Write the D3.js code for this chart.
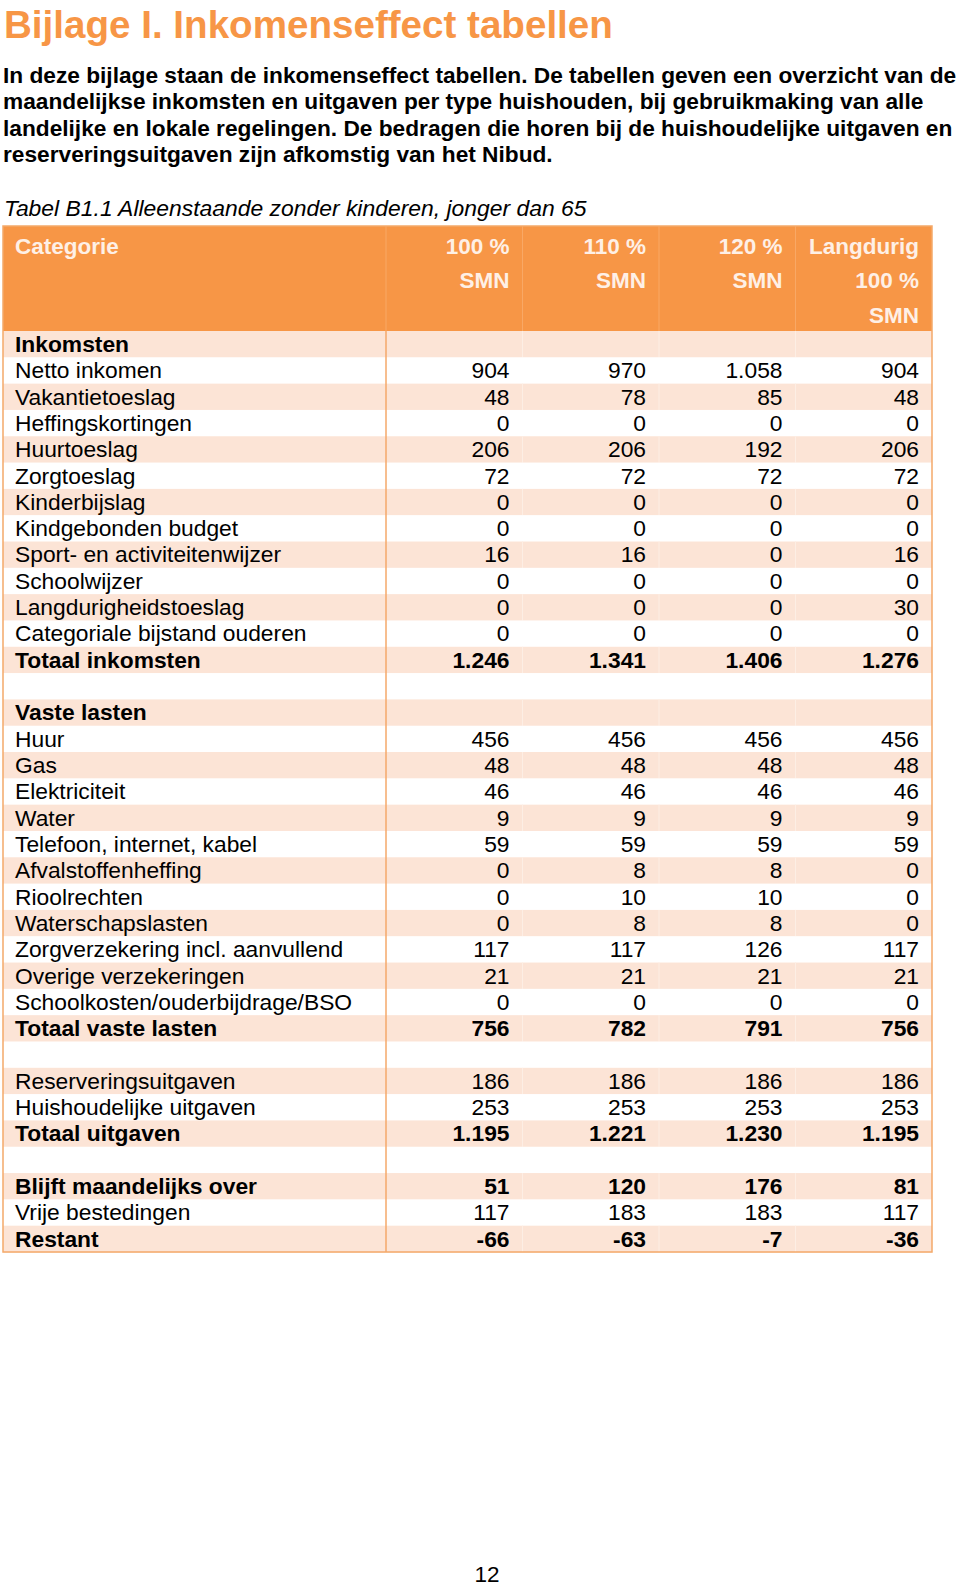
<!DOCTYPE html>
<html><head><meta charset="utf-8">
<script src="https://cdn.jsdelivr.net/npm/d3@7"></script>
<style>body{margin:0;background:#fff}svg{display:block}</style></head>
<body><svg id="c" width="960" height="1586"></svg>
<script>
const title = "Bijlage I. Inkomenseffect tabellen";
const introLines = [
  "In deze bijlage staan de inkomenseffect tabellen. De tabellen geven een overzicht van de",
  "maandelijkse inkomsten en uitgaven per type huishouden, bij gebruikmaking van alle",
  "landelijke en lokale regelingen. De bedragen die horen bij de huishoudelijke uitgaven en",
  "reserveringsuitgaven zijn afkomstig van het Nibud."
];
const tableCaption = "Tabel B1.1 Alleenstaande zonder kinderen, jonger dan 65";
const firstHeader = "Categorie";
const columnHeaders = [["100 %","SMN"],["110 %","SMN"],["120 %","SMN"],["Langdurig","100 %","SMN"]];
const categories = [
  "Inkomsten","Netto inkomen","Vakantietoeslag","Heffingskortingen","Huurtoeslag","Zorgtoeslag",
  "Kinderbijslag","Kindgebonden budget","Sport- en activiteitenwijzer","Schoolwijzer",
  "Langdurigheidstoeslag","Categoriale bijstand ouderen","Totaal inkomsten","",
  "Vaste lasten","Huur","Gas","Elektriciteit","Water","Telefoon, internet, kabel",
  "Afvalstoffenheffing","Rioolrechten","Waterschapslasten","Zorgverzekering incl. aanvullend",
  "Overige verzekeringen","Schoolkosten/ouderbijdrage/BSO","Totaal vaste lasten","",
  "Reserveringsuitgaven","Huishoudelijke uitgaven","Totaal uitgaven","",
  "Blijft maandelijks over","Vrije bestedingen","Restant"
];
const boldRows = ["Inkomsten","Totaal inkomsten","Vaste lasten","Totaal vaste lasten","Totaal uitgaven","Blijft maandelijks over","Restant"];
const smn100 =    [null,904,48,0,206,72,0,0,16,0,0,0,1246,null,null,456,48,46,9,59,0,0,0,117,21,0,756,null,186,253,1195,null,51,117,-66];
const smn110 =    [null,970,78,0,206,72,0,0,16,0,0,0,1341,null,null,456,48,46,9,59,8,10,8,117,21,0,782,null,186,253,1221,null,120,183,-63];
const smn120 =    [null,1058,85,0,192,72,0,0,0,0,0,0,1406,null,null,456,48,46,9,59,8,10,8,126,21,0,791,null,186,253,1230,null,176,183,-7];
const langdurig = [null,904,48,0,206,72,0,0,16,0,30,0,1276,null,null,456,48,46,9,59,0,0,0,117,21,0,756,null,186,253,1195,null,81,117,-36];
const pageNumber = "12";

const series = [smn100, smn110, smn120, langdurig];
const ORANGE = "#F79646", LIGHT = "#FCE4D6", HEADTXT = "#FEF0E6", BORDER = "#F4A96A";
const FONT = "'Liberation Sans', Arial, sans-serif";
const nl = d3.formatLocale({decimal:",", thousands:".", grouping:[3], currency:["€",""], minus:"-"});
const fmt = nl.format(",d");

const svg = d3.select("#c");
svg.append("text").attr("x",4).attr("y",37.5).attr("font-family",FONT).attr("font-weight","bold")
  .attr("font-size",38.6).attr("fill",ORANGE).text(title);

svg.selectAll("text.intro").data(introLines).join("text").attr("class","intro")
  .attr("x",3).attr("y",(d,i)=>83+i*26.3).attr("font-family",FONT).attr("font-weight","bold")
  .attr("font-size",22.7).attr("fill","#000").text(d=>d);

svg.append("text").attr("x",4).attr("y",216).attr("font-family",FONT).attr("font-style","italic")
  .attr("font-size",22.9).attr("fill","#000").text(tableCaption);

const left = 3, right = 932, catRight = 386, headTop = 226, headBottom = 331, bottom = 1252;
const y = d3.scaleBand().domain(d3.range(categories.length)).range([headBottom, bottom]);
const x = d3.scaleBand().domain(d3.range(series.length)).range([catRight, right]);

// header
svg.append("rect").attr("x",left).attr("y",headTop).attr("width",right-left).attr("height",headBottom-headTop).attr("fill",ORANGE);
svg.selectAll("line.hsep").data(d3.range(series.length)).join("line").attr("class","hsep")
  .attr("x1",d=>x(d)).attr("x2",d=>x(d)).attr("y1",headTop).attr("y2",headBottom)
  .attr("stroke","#F9A865").attr("stroke-width",1);
svg.append("text").attr("x",15).attr("y",254).attr("font-family",FONT).attr("font-weight","bold")
  .attr("font-size",22.5).attr("fill",HEADTXT).text(firstHeader);
const hg = svg.selectAll("g.hcol").data(columnHeaders).join("g").attr("class","hcol");
hg.selectAll("text").data((d,i)=>d.map(t=>({t,i}))).join("text")
  .attr("x",d=>x(d.i)+x.bandwidth()-13).attr("y",(d,j)=>254+j*34.3).attr("text-anchor","end")
  .attr("font-family",FONT).attr("font-weight","bold").attr("font-size",22.5).attr("fill",HEADTXT).text(d=>d.t);

// rows
const rows = svg.selectAll("g.row").data(categories).join("g").attr("class","row");
rows.append("rect").attr("x",left).attr("y",(d,i)=>y(i)).attr("width",right-left).attr("height",y.bandwidth()+0.5)
  .attr("fill",(d,i)=>i%2===0?LIGHT:"#fff");
rows.each(function(d,i){
  const g = d3.select(this);
  const b = boldRows.includes(d);
  if(i%2===0){
    g.selectAll("line.sep").data(d3.range(1,series.length)).join("line").attr("class","sep")
      .attr("x1",c=>x(c)).attr("x2",c=>x(c)).attr("y1",y(i)).attr("y2",y(i)+y.bandwidth())
      .attr("stroke","#FDEEE4").attr("stroke-width",1);
  }
  g.append("text").attr("x",15).attr("y",y(i)+y.bandwidth()/2+7.8).attr("font-family",FONT)
    .attr("font-weight",b?"bold":"normal").attr("font-size",22.8).attr("fill","#000").text(d);
  series.forEach((s,c)=>{
    if(s[i]===null) return;
    g.append("text").attr("x",x(c)+x.bandwidth()-13).attr("y",y(i)+y.bandwidth()/2+7.8).attr("text-anchor","end")
      .attr("font-family",FONT).attr("font-weight",b?"bold":"normal").attr("font-size",22.8).attr("fill","#000").text(fmt(s[i]));
  });
});

// borders
svg.append("line").attr("x1",catRight).attr("x2",catRight).attr("y1",headBottom).attr("y2",bottom).attr("stroke",BORDER).attr("stroke-width",1.5);
svg.append("rect").attr("x",left).attr("y",headTop).attr("width",right-left).attr("height",bottom-headTop)
  .attr("fill","none").attr("stroke",BORDER).attr("stroke-width",1.5);

svg.append("text").attr("x",487).attr("y",1582).attr("text-anchor","middle").attr("font-family",FONT)
  .attr("font-size",22.5).attr("fill","#000").text(pageNumber);
</script></body></html>
